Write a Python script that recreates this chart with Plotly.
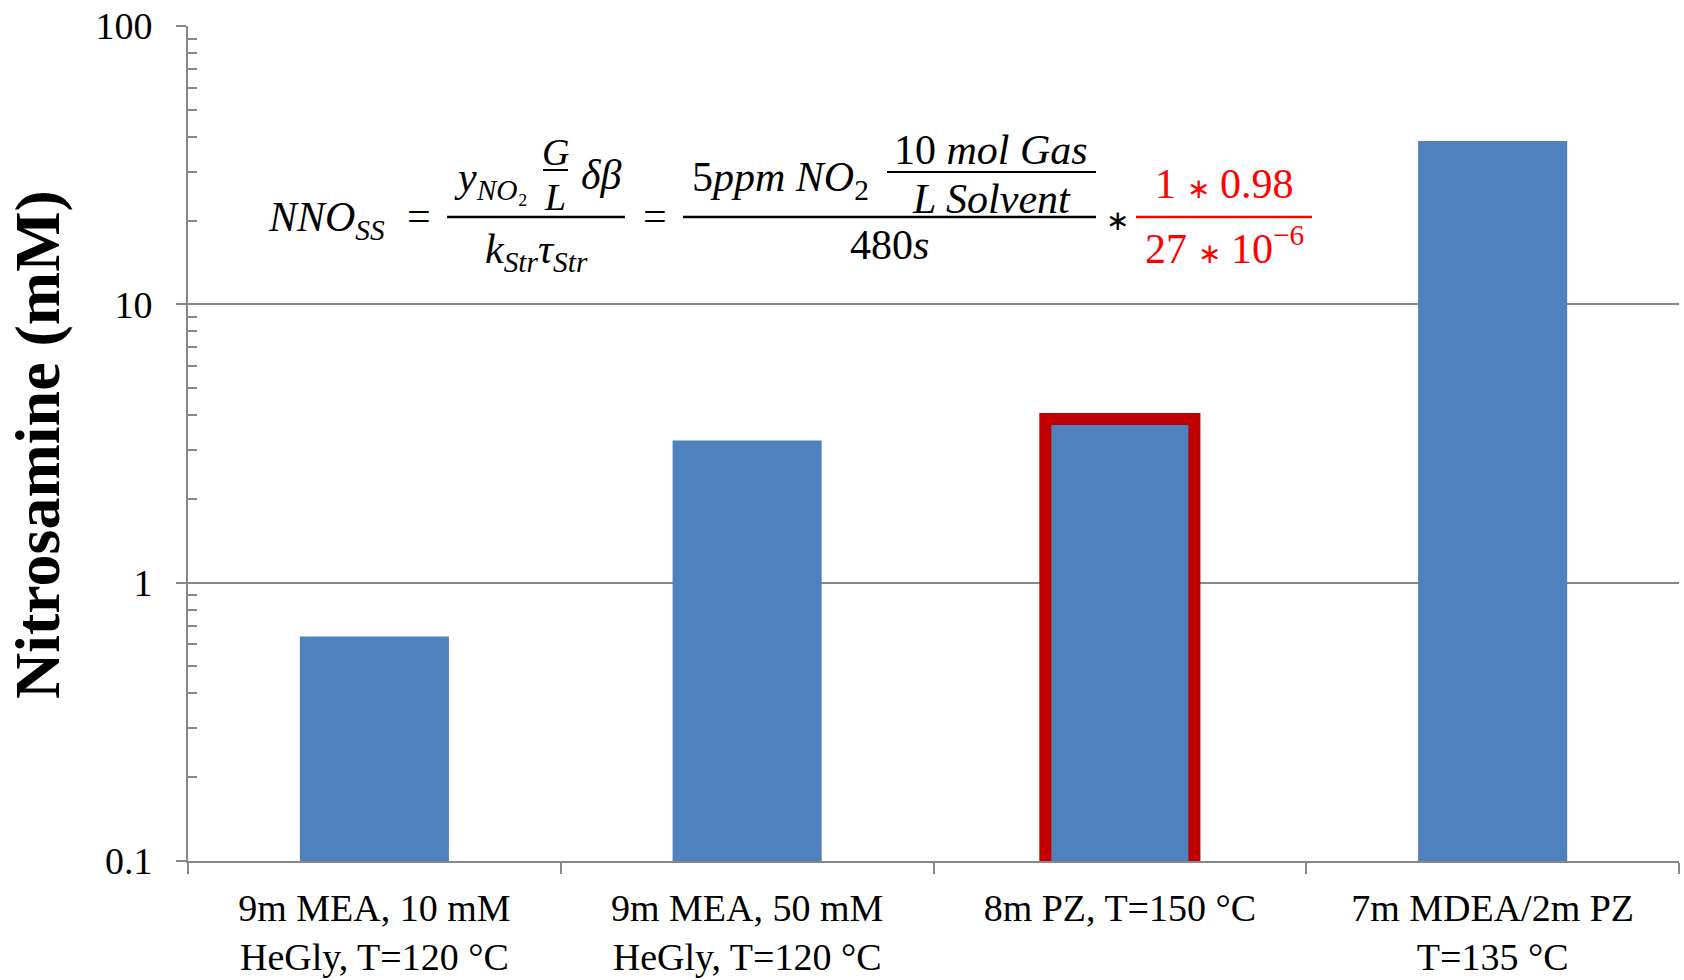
import plotly.graph_objects as go

# ---- data ----
categories = [
    "9m MEA, 10 mM<br>HeGly, T=120 °C",
    "9m MEA, 50 mM<br>HeGly, T=120 °C",
    "8m PZ, T=150 °C",
    "7m MDEA/2m PZ<br>T=135 °C",
]
nitrosamine_mM = [0.64, 3.24, 3.87, 38.6]
highlight = [False, False, True, False]

y_tick_vals = [0.1, 1, 10, 100]
y_tick_text = ["0.1", "1", "10", "100"]
y_title = "Nitrosamine (mM)"

# equation pieces
eq_lhs = "<i>NNO</i><sub><i>SS</i></sub>"
eq_num1_a = "<i>y</i><sub><i>NO</i>₂</sub>"
eq_num1_g = "<i>G</i>"
eq_num1_l = "<i>L</i>"
eq_num1_b = "<i>δβ</i>"
eq_den1 = "<i>k</i><sub><i>Str</i></sub><i>τ</i><sub><i>Str</i></sub>"
eq_num2_a = "5<i>ppm NO</i><sub>2</sub>"
eq_num2_top = "10 <i>mol Gas</i>"
eq_num2_bot = "<i>L Solvent</i>"
eq_den2 = "480<i>s</i>"
eq_red_num = "1 <span style='font-size:28px'>∗</span> 0.98"
eq_red_den = "27 <span style='font-size:28px'>∗</span> 10<sup>−6</sup>"

# ---- layout geometry (pixels; page body margin removed) ----
W, H = 1684, 980
ML, MR, MT, MB = 188, 5, 26, 119
PW = W - ML - MR
PH = H - MT - MB


def px(x):
    return (x - ML) / PW


def py(y):
    return (H - MB - y) / PH


BLUE = "#4F81BD"
RED_OUT = "#C00000"
GRID = "#878787"
SERIF = "Liberation Serif"

fig = go.Figure()
fig.add_trace(go.Bar(
    x=categories,
    y=nitrosamine_mM,
    marker=dict(
        color=BLUE,
        line=dict(color=[RED_OUT if h else BLUE for h in highlight],
                  width=[12 if h else 0 for h in highlight]),
    ),
    width=0.4,
))

minor_vals = [m * 10 ** e for e in (-1, 0, 1) for m in range(2, 10)]

fig.update_layout(
    width=W, height=H,
    margin=dict(l=ML, r=MR, t=MT, b=MB, autoexpand=False),
    plot_bgcolor="white", paper_bgcolor="white",
    showlegend=False,
    font=dict(family=SERIF, color="black"),
    xaxis=dict(
        type="category",
        tickson="boundaries",
        ticks="outside", ticklen=11, tickwidth=2, tickcolor=GRID,
        showline=True, linecolor=GRID, linewidth=2,
        showgrid=False,
        tickfont=dict(family=SERIF, size=38, color="black"),
        ticklabelstandoff=12,
        automargin=False,
    ),
    yaxis=dict(
        type="log",
        range=[-1, 2],
        tickmode="array", tickvals=y_tick_vals, ticktext=y_tick_text,
        ticks="outside", ticklen=10, tickwidth=2, tickcolor=GRID,
        showline=True, linecolor=GRID, linewidth=2,
        showgrid=True, gridcolor=GRID, gridwidth=1.5,
        zeroline=False,
        minor=dict(tickmode="array", tickvals=minor_vals, ticks="inside",
                   ticklen=9, tickwidth=2, tickcolor=GRID, showgrid=False),
        tickfont=dict(family=SERIF, size=38, color="black"),
        ticklabelstandoff=16,
        ticklabeloverflow="allow",
        automargin=False,
    ),
)

EQ = 42


def txt(x, y, s, size=EQ, color="black", xanchor="center", angle=0):
    fig.add_annotation(x=px(x), y=py(y), xref="paper", yref="paper",
                       text=s, showarrow=False, xanchor=xanchor, yanchor="middle",
                       textangle=angle,
                       font=dict(family=SERIF, size=size, color=color))


def hline(x0, x1, y, color="black", w=2.5):
    fig.add_shape(type="line", xref="paper", yref="paper",
                  x0=px(x0), x1=px(x1), y0=py(y), y1=py(y),
                  line=dict(color=color, width=w))


# y-axis title
txt(38, 445, "<b>" + y_title + "</b>", size=64, angle=-90)

# equation
txt(266, 220, eq_lhs, xanchor="left")
txt(419, 216, "=")
hline(447, 625, 217)
txt(491, 180, eq_num1_a)
txt(555, 152, eq_num1_g, size=38)
hline(543, 568, 170, w=2)
txt(555, 197, eq_num1_l, size=38)
txt(601, 175, eq_num1_b)
txt(536, 252, eq_den1)
txt(655, 216, "=")
hline(683, 1096, 217)
txt(780, 180, eq_num2_a)
txt(991, 150, eq_num2_top)
hline(887, 1096, 172, w=2)
txt(991, 199, eq_num2_bot)
txt(889, 245, eq_den2)
txt(1117, 220, "∗", size=28)
hline(1136, 1312, 217, color="#FF0000")
txt(1224, 184, eq_red_num, color="#FF0000")
txt(1224, 245, eq_red_den, color="#FF0000")

fig.write_html("out.html", config={"displayModeBar": False},
               post_script="document.body.style.margin='0';")
